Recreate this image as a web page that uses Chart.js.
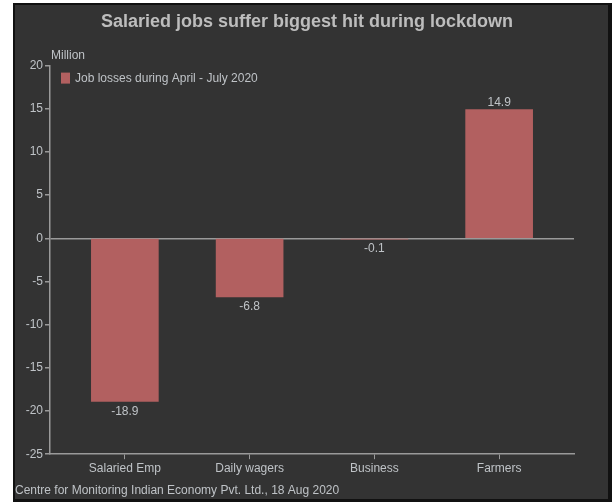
<!DOCTYPE html>
<html>
<head>
<meta charset="utf-8">
<title>Salaried jobs suffer biggest hit during lockdown</title>
<script src="https://cdn.jsdelivr.net/npm/chart.js@4.4.0/dist/chart.umd.min.js"></script>
<style>
  html, body { margin: 0; padding: 0; background: #fff; }
  #wrap { width: 615px; height: 502px; }
</style>
</head>
<body>
<div id="wrap"><canvas id="chart" width="615" height="502"></canvas></div>
<script>
// Job losses by employment type, in million
const categories = ['Salaried Emp', 'Daily wagers', 'Business', 'Farmers'];
const jobLosses = [-18.9, -6.8, -0.1, 14.9];
const yTicks = [20, 15, 10, 5, 0, -5, -10, -15, -20, -25];
const seriesName = 'Job losses during April - July 2020';

const FONT = "'Liberation Sans Narrow', 'Arial Narrow', 'Liberation Sans', Arial, sans-serif";
const TEXT = '#bfc3c7';
const AXIS = '#9a9a9a';
const BAR = '#b26060';

// dark panel with a black frame behind everything
const panel = {
  id: 'panel',
  beforeDraw(chart) {
    const ctx = chart.ctx;
    ctx.save();
    ctx.fillStyle = '#111';
    ctx.fillRect(13, 3, 599, 499);
    ctx.fillStyle = '#333';
    ctx.fillRect(15, 5, 593, 494);
    ctx.restore();
  }
};

// unit label, legend entry inside the plot, and value labels on the bars
const labels = {
  id: 'labels',
  afterDatasetsDraw(chart) {
    const ctx = chart.ctx;
    const y = chart.scales.y;
    const area = chart.chartArea;
    ctx.save();
    ctx.fillStyle = TEXT;
    ctx.font = '12px ' + FONT;
    ctx.textAlign = 'left';
    ctx.textBaseline = 'middle';
    ctx.fillText('Million', y.right + 1, area.top - 10);

    ctx.fillStyle = BAR;
    ctx.fillRect(area.left + 11, area.top + 7, 9, 11);
    ctx.fillStyle = TEXT;
    ctx.font = '12px ' + FONT;
    ctx.fillText(seriesName, area.left + 25, area.top + 13);

    ctx.textAlign = 'center';
    chart.getDatasetMeta(0).data.forEach((bar, i) => {
      const v = jobLosses[i];
      if (v >= 0) {
        ctx.textBaseline = 'bottom';
        ctx.fillText(v.toFixed(1), bar.x, bar.y - 1);
      } else {
        ctx.textBaseline = 'top';
        ctx.fillText(v.toFixed(1), bar.x, bar.y + 4);
      }
    });
    ctx.restore();
  }
};

new Chart(document.getElementById('chart'), {
  type: 'bar',
  data: {
    datasets: [{
      label: seriesName,
      data: jobLosses.map((v, i) => ({ x: i, y: v })),
      backgroundColor: BAR,
      borderWidth: 0,
      barThickness: 67
    }]
  },
  options: {
    responsive: false,
    animation: false,
    layout: { padding: { left: 15, right: 16, top: 4, bottom: 4 } },
    plugins: {
      title: {
        display: true,
        text: 'Salaried jobs suffer biggest hit during lockdown',
        color: '#bdbdbd',
        font: { family: FONT, size: 18, weight: 'bold' },
        padding: { top: 7, bottom: 33 }
      },
      subtitle: {
        display: true,
        position: 'bottom',
        align: 'start',
        text: 'Centre for Monitoring Indian Economy Pvt. Ltd., 18 Aug 2020',
        color: TEXT,
        font: { family: FONT, size: 12 },
        padding: { top: 6, bottom: 0 }
      },
      legend: { display: false },
      tooltip: { enabled: false }
    },
    scales: {
      x: {
        type: 'linear',
        offset: false,
        min: -0.6,
        max: 3.6,
        afterBuildTicks: s => { s.ticks = categories.map((c, i) => ({ value: i })); },
        ticks: {
          color: TEXT,
          font: { family: FONT, size: 12 },
          padding: 2,
          maxRotation: 0,
          autoSkip: false,
          callback: v => categories[v]
        },
        grid: { offset: false, drawOnChartArea: false, tickColor: AXIS, tickLength: 5 },
        border: { color: AXIS, width: 1.5 }
      },
      y: {
        min: -25,
        max: 20,
        afterBuildTicks: s => { s.ticks = yTicks.map(v => ({ value: v })); },
        afterFit: s => { s.width = 35; },
        ticks: {
          color: TEXT,
          font: { family: FONT, size: 12 },
          padding: 2
        },
        grid: {
          color: c => (c.tick && c.tick.value === 0 ? AXIS : 'transparent'),
          lineWidth: 1.5,
          tickColor: AXIS,
          tickLength: 5
        },
        border: { color: AXIS, width: 1.5 }
      },
      y2: {
        position: 'right',
        display: true,
        afterFit: s => { s.width = 25; },
        ticks: { display: false },
        grid: { display: false },
        border: { display: false }
      }
    }
  },
  plugins: [panel, labels]
});
</script>
</body>
</html>
